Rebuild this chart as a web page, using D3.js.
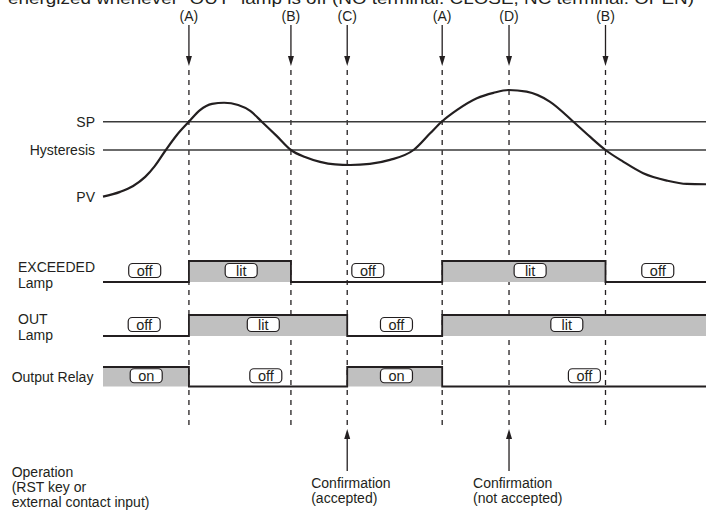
<!DOCTYPE html>
<html>
<head>
<meta charset="utf-8">
<script src="https://cdn.jsdelivr.net/npm/d3@7"></script>
<style>
  html, body { margin: 0; padding: 0; background: #fff; }
  svg { display: block; }
  text { font-family: "Liberation Sans", Arial, Helvetica, sans-serif; fill: #231f20; }
</style>
</head>
<body>
<svg id="chart" width="706" height="512"></svg>
<script>
// ---------------- data ----------------
const titleText = "energized whenever \u201COUT\u201D lamp is off (NO terminal: CLOSE, NC terminal: OPEN)";

const eventNames = ["(A)", "(B)", "(C)", "(A)", "(D)", "(B)"];
const eventTimes = [17.1, 37.4, 48.6, 67.5, 80.8, 100.0];

const levelNames = ["SP", "Hysteresis"];
const levelValues = [100, 90];

const pvTime = [0, 3.4, 6.0, 8.4, 10.3, 12.5, 14.7, 17.1, 19.3, 21.7, 24.1, 26.9, 29.3, 31.6, 34.6, 37.4,
  40.2, 43.2, 46.2, 49.2, 53.1, 57.1, 61.8, 65.1, 67.4, 70.4, 74.4, 77.7, 80.7, 84.3, 88.9, 93.6,
  96.9, 100.0, 103.5, 107.5, 112.2, 116.2, 120];
const pvValue = [73.5, 75.2, 77.3, 80.5, 84.3, 90, 95.3, 100, 104.1, 106.3, 106.7, 105.9, 103.8, 100, 94.9, 90,
  87.5, 85.8, 84.9, 84.7, 85.1, 86.5, 90, 95.9, 100, 104.1, 108.3, 110.2, 111.2, 110.6, 107.1, 100,
  94.7, 90, 85.9, 81.8, 79.2, 78.0, 77.9];

const rowNames = [["EXCEEDED", "Lamp"], ["OUT", "Lamp"], ["Output Relay"]];

const exceededEdges = [0, 17.1, 37.4, 67.5, 100.0, 120];
const exceededStates = [0, 1, 0, 1, 0];
const exceededLabels = ["off", "lit", "off", "lit", "off"];
const exceededLabelTimes = [8.3, 27.5, 52.7, 85.0, 110.4];

const outEdges = [0, 17.1, 48.6, 67.5, 120];
const outStates = [0, 1, 0, 1];
const outLabels = ["off", "lit", "off", "lit"];
const outLabelTimes = [8.2, 31.9, 58.4, 92.3];

const relayEdges = [0, 17.1, 48.6, 67.5, 120];
const relayStates = [1, 0, 1, 0];
const relayLabels = ["on", "off", "on", "off"];
const relayLabelTimes = [8.6, 32.4, 58.4, 95.8];

const confirmTimes = [48.6, 80.8];
const confirmLabels = [["Confirmation", "(accepted)"], ["Confirmation", "(not accepted)"]];
const operationLabel = ["Operation", "(RST key or", "external contact input)"];

// ---------------- layout ----------------
const svg = d3.select("#chart");
const ink = "#231f20";
const fs = 14;

const x = d3.scaleLinear().domain([0, 120]).range([103, 706]);
const y = d3.scaleLinear().domain([90, 100]).range([150, 121.7]);

// title (cut at top, as in the reference)
svg.append("text")
  .attr("x", 8).attr("y", 4)
  .attr("font-size", 17)
  .attr("textLength", 686).attr("lengthAdjust", "spacingAndGlyphs")
  .text(titleText);

// event labels, arrows, dashed lines
const ev = svg.append("g");
eventTimes.forEach((t, i) => {
  const cx = x(t);
  ev.append("text").attr("x", cx).attr("y", 20.5).attr("text-anchor", "middle")
    .attr("font-size", fs).text(eventNames[i]);
  ev.append("line").attr("x1", cx).attr("x2", cx).attr("y1", 25).attr("y2", 58)
    .attr("stroke", ink).attr("stroke-width", 1.3);
  ev.append("path").attr("d", `M${cx - 3},${56} L${cx + 3},${56} L${cx},${66} Z`).attr("fill", ink);
  ev.append("line").attr("x1", cx).attr("x2", cx).attr("y1", 70).attr("y2", 425)
    .attr("stroke", ink).attr("stroke-width", 1.3).attr("stroke-dasharray", "5,5");
});

// SP / Hysteresis lines
levelValues.forEach((v, i) => {
  svg.append("line").attr("x1", x(0)).attr("x2", x(120)).attr("y1", y(v)).attr("y2", y(v))
    .attr("stroke", "#3a3a3a").attr("stroke-width", 1.5);
  svg.append("text").attr("x", 95).attr("y", y(v)).attr("dy", "0.36em")
    .attr("text-anchor", "end").attr("font-size", fs).text(levelNames[i]);
});

// PV curve
const pvData = pvTime.map((t, i) => [t, pvValue[i]]);
svg.append("path").datum(pvData)
  .attr("d", d3.line().x(d => x(d[0])).y(d => y(d[1])).curve(d3.curveMonotoneX))
  .attr("fill", "none").attr("stroke", ink).attr("stroke-width", 2.2);
svg.append("text").attr("x", 95).attr("y", y(pvValue[0])).attr("dy", "0.36em")
  .attr("text-anchor", "end").attr("font-size", fs).text("PV");

// timing rows
const rows = [
  { edges: exceededEdges, states: exceededStates, labels: exceededLabels, lt: exceededLabelTimes, low: 282, high: 261, names: rowNames[0], nameX: 18, nameY: 272 },
  { edges: outEdges, states: outStates, labels: outLabels, lt: outLabelTimes, low: 336, high: 315, names: rowNames[1], nameX: 18, nameY: 324 },
  { edges: relayEdges, states: relayStates, labels: relayLabels, lt: relayLabelTimes, low: 386.5, high: 367, names: rowNames[2], nameX: 11.7, nameY: 382 }
];

rows.forEach(r => {
  const g = svg.append("g");
  const ly = d3.scaleLinear().domain([0, 1]).range([r.low, r.high]);
  r.states.forEach((s, i) => {
    if (s === 1) {
      g.append("rect").attr("x", x(r.edges[i])).attr("y", ly(1))
        .attr("width", x(r.edges[i + 1]) - x(r.edges[i])).attr("height", ly(0) - ly(1))
        .attr("fill", "#c0c0c0");
    }
  });
  const pts = r.states.map((s, i) => [r.edges[i], s]);
  pts.push([r.edges[r.edges.length - 1], r.states[r.states.length - 1]]);
  g.append("path").datum(pts)
    .attr("d", d3.line().x(d => x(d[0])).y(d => ly(d[1])).curve(d3.curveStepAfter))
    .attr("fill", "none").attr("stroke", ink).attr("stroke-width", 1.8);
  const midY = (r.low + r.high) / 2 - 1;
  r.labels.forEach((lab, i) => {
    const cx = x(r.lt[i]);
    g.append("rect").attr("x", cx - 16).attr("y", midY - 7).attr("width", 32).attr("height", 14)
      .attr("rx", 4).attr("fill", "#fff").attr("stroke", ink).attr("stroke-width", 1.2);
    g.append("text").attr("x", cx).attr("y", midY).attr("dy", "0.36em").attr("text-anchor", "middle")
      .attr("font-size", 14.5).text(lab);
  });
  r.names.forEach((n, i) => {
    g.append("text").attr("x", r.nameX).attr("y", r.nameY + i * 15.5).attr("font-size", fs).text(n);
  });
});

// confirmation arrows
confirmTimes.forEach((t, i) => {
  const cx = x(t);
  svg.append("line").attr("x1", cx).attr("x2", cx).attr("y1", 437).attr("y2", 471)
    .attr("stroke", ink).attr("stroke-width", 1.3);
  svg.append("path").attr("d", `M${cx - 3},${439} L${cx + 3},${439} L${cx},${429} Z`).attr("fill", ink);
  confirmLabels[i].forEach((l, j) => {
    svg.append("text").attr("x", cx - 36).attr("y", 488 + j * 15).attr("font-size", fs).text(l);
  });
});

operationLabel.forEach((l, j) => {
  svg.append("text").attr("x", 11.7).attr("y", 477 + j * 15).attr("font-size", fs).text(l);
});
</script>
</body>
</html>
